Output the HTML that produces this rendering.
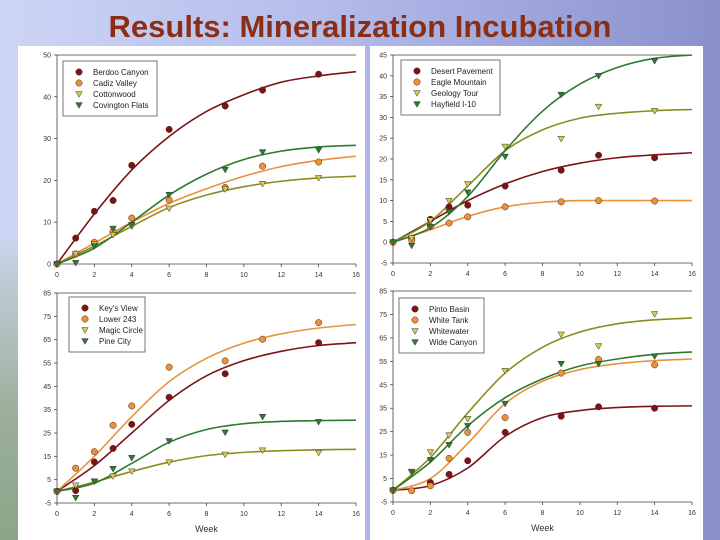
<!DOCTYPE html>
<html><head><meta charset="utf-8">
<style>
html,body{margin:0;padding:0}
body{width:720px;height:540px;overflow:hidden;position:relative;font-family:"Liberation Sans",sans-serif;
background:linear-gradient(90deg,#cdd5f6 0%,#b4bceb 45%,#8a90cc 100%);}
#title{position:absolute;left:0;width:720px;top:9px;text-align:center;font-size:31px;line-height:36px;font-weight:bold;color:#8b2e14;}
#strip{position:absolute;left:0;top:240px;width:18px;height:300px;background:linear-gradient(180deg,#c8d4e8,#9aae98 60%,#8da48a);}
.panel{position:absolute;background:#fff}
svg{position:absolute;left:0;top:0}
</style></head><body>
<div id="title">Results: Mineralization Incubation</div>
<div id="strip"></div>
<div class="panel" style="left:18px;top:46px;width:347px;height:494px"></div>
<div class="panel" style="left:370px;top:46px;width:333px;height:494px"></div>
<svg id="svg" width="720" height="540"></svg>
<script>
const weeks=[0,1,2,3,4,6,9,11,14];
const curveWeeks=[0,2,4,6,8,10,12,14,16];
const xTicks=[0,2,4,6,8,10,12,14,16];
// Panel 1
const p1Names=["Berdoo Canyon","Cadiz Valley","Cottonwood","Covington Flats"];
const p1Pts=[[0,6.2,12.6,15.2,23.6,32.2,37.8,41.6,45.4],[0,2.4,5.2,7.8,11,15.3,18.3,23.4,24.4],[0,2.5,4.8,7,9,13.3,17.9,19.2,20.6],[0,0.3,4.3,8.5,9.4,16.6,22.6,26.8,27.3]];
const p1Fit=[[0,12,22.5,30.5,36.5,40.5,43.5,45,46],[0,5,10,14.5,18,21,23.3,24.8,25.8],[0,4.3,9,13.5,16.5,18.5,19.8,20.6,21],[0,3.8,10,16.5,21.5,25,27,28,28.4]];
const p1Y=[0,10,20,30,40,50];
// Panel 2
const p2Names=["Desert Pavement","Eagle Mountain","Geology Tour","Hayfield I-10"];
const p2Pts=[[0,0.8,5.5,8.5,8.9,13.5,17.3,20.9,20.3],[0,0.5,3.8,4.6,6.1,8.5,9.7,10,9.9],[0,1,5.3,10,14,23,24.9,32.6,31.6],[0,-0.8,3.7,7.3,12,20.6,35.5,40,43.6]];
const p2Fit=[[0,5,10,14,17,19,20.3,21,21.5],[0,3,6.2,8.5,9.6,10,10,10,10],[0,5,13.5,22,27,29.8,31,31.6,31.9],[0,3.5,11,22,31.5,38,42,44.2,45]];
const p2Y=[-5,0,5,10,15,20,25,30,35,40,45];
// Panel 3
const p3Names=["Key's View","Lower 243","Magic Circle","Pine City"];
const p3Pts=[[0,0.3,12.6,18.4,28.7,40.3,50.4,null,63.7],[0,9.9,17,28.3,36.6,53.2,55.9,65.2,72.3],[0,2.6,4.3,6.5,8.6,12.5,15.8,17.6,16.6],[0,-2.7,4.3,9.7,14.4,21.6,25.3,32,29.8]];
const p3Fit=[[0,11,25,39,49.5,56,60,62.5,63.7],[0,15,32,47,57,63.5,67.5,70,71.5],[0,4,8.5,12.5,15.3,16.7,17.4,17.8,18],[0,3.5,12,21,26.5,29,30,30.3,30.5]];
const p3Y=[-5,5,15,25,35,45,55,65,75,85];
// Panel 4
const p4Names=["Pinto Basin","White Tank","Whitewater","Wide Canyon"];
const p4Pts=[[0,null,3.3,6.8,12.6,24.7,31.6,35.6,35],[0,-0.2,1.9,13.6,24.7,31,50,55.8,53.5],[0,8,16.3,23.5,30.5,51,66.5,61.5,75.2],[0,7.7,13,19.4,27.5,37,54,54,57.2]];
const p4Fit=[[0,2,9.5,23,31,34,35.3,35.8,36],[0,5,20,37,46.5,51.5,54,55.3,56],[0,14,33,50,61,67.5,71,72.7,73.5],[0,12,27.5,39.5,47.5,53,56,58,59]];
const p4Y=[-5,5,15,25,35,45,55,65,75,85];

const fills=["#7a1418","#e8923c","#d4cc50","#2e7a2e"];
const lines=["#7a1418","#e8923c","#8c8c1e","#2e7a2e"];
const shapes=["circle","circle","tri","tri"];
const NS="http://www.w3.org/2000/svg";
const svg=document.getElementById('svg');
function mk(t,a,p){const e=document.createElementNS(NS,t);for(const k in a)e.setAttribute(k,a[k]);(p||svg).appendChild(e);return e;}

function panel(id,box,yTicks,names,pts,fit,leg,week){
  const g=mk('g',{});
  
  
  const ymin=yTicks[0],ymax=yTicks[yTicks.length-1];
  const X=v=>box.x0+(v-0)/16*(box.x1-box.x0);
  const Y=v=>box.yb+(v-ymin)/(ymax-ymin)*(box.yt-box.yb);
  const ax=mk('path',{d:`M${box.x1},${box.yt}H${box.x0}V${box.yb}H${box.x1}`,fill:'none',stroke:'#444','stroke-width':0.8},g);
  
  
  yTicks.forEach(t=>{
    mk('line',{x1:box.x0-3,x2:box.x0,y1:Y(t),y2:Y(t),stroke:'#444','stroke-width':0.8},g);
    const tx=mk('text',{x:box.x0-6,y:Y(t)+2.5,'text-anchor':'end','font-size':7,fill:'#333'},g);
    tx.textContent=t;
    
    
  });
  xTicks.forEach(t=>{
    mk('line',{x1:X(t),x2:X(t),y1:box.yb,y2:box.yb+3,stroke:'#444','stroke-width':0.8},g);
    const tx=mk('text',{x:X(t),y:box.yb+13,'text-anchor':'middle','font-size':7,fill:'#333'},g);
    tx.textContent=t;
    
    
  });
  if(week){const w=mk('text',{x:(box.x0+box.x1)/2,y:box.yb+29,'text-anchor':'middle','font-size':9,fill:'#333'},g);w.textContent='Week';
    
    }
  fit.forEach((s,i)=>{
    const P=s.map((v,j)=>[X(curveWeeks[j]),Y(v)]);
    let d=`M${P[0][0]},${P[0][1]}`;
    for(let j=0;j<P.length-1;j++){
      const p0=P[Math.max(j-1,0)],p1=P[j],p2=P[j+1],p3=P[Math.min(j+2,P.length-1)];
      d+=`C${p1[0]+(p2[0]-p0[0])/6},${p1[1]+(p2[1]-p0[1])/6} ${p2[0]-(p3[0]-p1[0])/6},${p2[1]-(p3[1]-p1[1])/6} ${p2[0]},${p2[1]}`;
    }
    const c=mk('path',{d,fill:'none',stroke:lines[i],'stroke-width':1.6},g);
    
    
  });
  function marker(i,x,y,par){
    let e;
    if(shapes[i]=='circle') e=mk('circle',{cx:x,cy:y,r:3.2,fill:fills[i],stroke:'#5a2010','stroke-width':0.5},par);
    else e=mk('path',{d:`M${x-3.3},${y-2.4}H${x+3.3}L${x},${y+3.3}Z`,fill:fills[i],stroke:'#333','stroke-width':0.5},par);
    return e;
  }
  pts.forEach((s,i)=>{
    s.forEach((v,j)=>{ if(v===null)return;
      const m=marker(i,X(weeks[j]),Y(v),g);
      
      
    });
  });
  const lg=mk('g',{},g);
  
  
  mk('rect',{x:leg.x,y:leg.y,width:leg.w,height:55,fill:'#fff',stroke:'#555','stroke-width':0.8},lg);
  names.forEach((n,i)=>{
    const yy=leg.y+11+i*11;
    marker(i,leg.x+16,yy,lg);
    const t=mk('text',{x:leg.x+30,y:yy+3,'font-size':8,fill:'#222'},lg);
    t.textContent=n;
    
    
  });
}
panel('chart-top-left',{x0:57,x1:356,yt:55,yb:264},p1Y,p1Names,p1Pts,p1Fit,{x:63,y:61,w:94},false);
panel('chart-top-right',{x0:393,x1:692,yt:55,yb:263},p2Y,p2Names,p2Pts,p2Fit,{x:401,y:60,w:99},false);
panel('chart-bottom-left',{x0:57,x1:356,yt:293,yb:503},p3Y,p3Names,p3Pts,p3Fit,{x:69,y:297,w:76},true);
panel('chart-bottom-right',{x0:393,x1:692,yt:291,yb:502},p4Y,p4Names,p4Pts,p4Fit,{x:399,y:298,w:85},true);
</script>
</body></html>
